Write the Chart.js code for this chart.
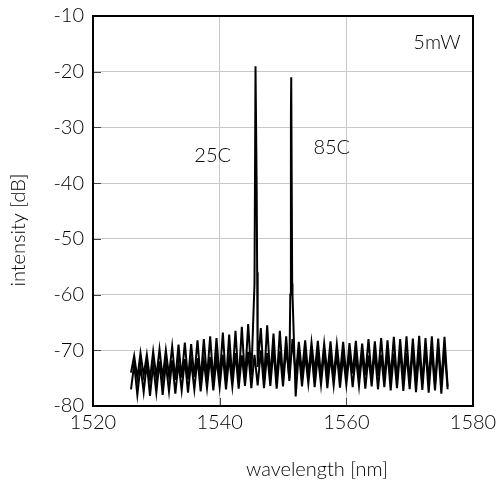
<!DOCTYPE html>
<html>
<head>
<meta charset="utf-8">
<script src="https://cdn.jsdelivr.net/npm/chart.js@4/dist/chart.umd.min.js"></script>
<style>
  html, body { margin: 0; padding: 0; background: #fff; }
  #wrap { width: 502px; height: 483px; }
</style>
</head>
<body>
<div id="wrap"><canvas id="spectrum"></canvas></div>
<script>
// shared wavelength grid of the two spectra [nm]
const wavelengths = [
  1526, 1526.5, 1527, 1527.5, 1528, 1528.5, 1529, 1529.5, 1530, 1530.5,
  1531, 1531.5, 1532, 1532.5, 1533, 1533.5, 1534, 1534.5, 1535, 1535.5,
  1536, 1536.5, 1537, 1537.5, 1538, 1538.5, 1539, 1539.5, 1540, 1540.5,
  1541, 1541.5, 1542, 1542.5, 1543, 1543.5, 1544, 1544.5, 1545, 1545.5,
  1546, 1546.5, 1547, 1547.5, 1548, 1548.5, 1549, 1549.5, 1550, 1550.5,
  1551, 1551.5, 1552, 1552.5, 1553, 1553.5, 1554, 1554.5, 1555, 1555.5,
  1556, 1556.5, 1557, 1557.5, 1558, 1558.5, 1559, 1559.5, 1560, 1560.5,
  1561, 1561.5, 1562, 1562.5, 1563, 1563.5, 1564, 1564.5, 1565, 1565.5,
  1566, 1566.5, 1567, 1567.5, 1568, 1568.5, 1569, 1569.5, 1570, 1570.5,
  1571, 1571.5, 1572, 1572.5, 1573, 1573.5, 1574, 1574.5, 1575, 1575.5,
  1576
];

// 25C spectrum on the grid [dB]
const intensity25 = [
  -74.0, -71.0, -75.0, -70.5, -74.5, -70.8, -75.2, -70.2, -74.8, -69.8,
  -75.0, -70.0, -74.6, -69.3, -75.3, -69.0, -74.9, -68.6, -75.2, -68.9,
  -74.8, -68.2, -75.4, -68.0, -75.0, -67.5, -75.5, -67.8, -75.1, -66.8,
  -75.6, -67.2, -75.2, -66.5, -75.8, -65.8, -75.3, -65.3, -74.5, -58.0,
  -73.0, -66.0, -75.5, -65.5, -75.0, -67.0, -75.8, -66.5, -75.2, -67.5,
  -75.5, -68.0, -74.5, -68.5, -74.0, -68.2, -74.5, -68.6, -74.0, -68.3,
  -74.6, -68.8, -74.2, -68.4, -74.8, -68.9, -74.3, -68.5, -74.7, -68.7,
  -74.2, -68.3, -74.8, -68.8, -74.5, -68.0, -75.0, -68.4, -74.6, -67.8,
  -75.2, -68.2, -75.0, -67.6, -75.5, -68.0, -75.2, -67.5, -75.8, -67.9,
  -75.4, -67.4, -76.0, -67.8, -75.6, -67.5, -76.2, -67.9, -75.8, -67.6,
  -76.5
];

// 85C spectrum on the grid [dB]
const intensity85 = [
  -77.0, -72.5, -78.0, -72.8, -77.5, -72.3, -78.2, -72.6, -77.6, -72.0,
  -78.0, -72.4, -77.4, -71.8, -77.8, -72.2, -77.2, -71.6, -77.6, -72.0,
  -77.0, -71.4, -77.4, -71.8, -76.8, -71.2, -77.2, -71.5, -76.6, -70.8,
  -77.0, -71.2, -76.5, -70.5, -76.9, -70.9, -76.4, -70.3, -76.8, -70.8,
  -76.3, -70.0, -76.8, -70.5, -76.4, -69.8, -76.9, -70.2, -76.5, -69.6,
  -75.0, -60.0, -78.3, -70.2, -76.5, -70.8, -76.0, -70.3, -76.6, -70.9,
  -76.2, -70.4, -76.8, -71.0, -76.3, -70.5, -76.7, -71.0, -76.2, -70.6,
  -76.6, -71.0, -76.4, -70.5, -76.9, -70.9, -76.5, -70.3, -77.0, -70.8,
  -76.6, -70.2, -77.2, -70.6, -76.8, -70.0, -77.3, -70.5, -77.0, -69.8,
  -77.5, -70.3, -77.1, -69.6, -77.6, -70.1, -77.2, -69.5, -77.8, -69.8,
  -77.0
];

// extra points of the laser lines, between grid points
const peak25Wl = [1545.66, 1545.72, 1545.85, 1545.92];
const peak25Int = [-19, -19, -42, -56];
const peak85Wl = [1551.15, 1551.25, 1551.3, 1551.38, 1551.45];
const peak85Int = [-60, -28, -21, -21, -58];

const xTicks = [1520, 1540, 1560, 1580];
const yTicks = [-80, -70, -60, -50, -40, -30, -20, -10];

const labels = [
  { text: '25C', x: 1538.9, y: -35.0 },
  { text: '85C', x: 1557.7, y: -33.7 },
  { text: '5mW', x: 1574.3, y: -14.7 }
];

const FONT = 'Lato, "Open Sans", sans-serif';

function buildPoints(wl, vals, extraWl, extraVals) {
  const pts = wl.map((x, i) => ({ x, y: vals[i] }));
  extraWl.forEach((x, i) => pts.push({ x, y: extraVals[i] }));
  pts.sort((a, b) => a.x - b.x);
  return pts;
}

const framePlugin = {
  id: 'frame',
  afterDraw(chart) {
    const { ctx, chartArea: a, scales } = chart;
    ctx.save();
    // inward tick marks
    ctx.strokeStyle = '#444';
    ctx.lineWidth = 1;
    ctx.beginPath();
    yTicks.forEach(v => {
      const y = Math.round(scales.y.getPixelForValue(v)) + 0.5;
      ctx.moveTo(a.left, y);
      ctx.lineTo(a.left + 8, y);
    });
    xTicks.forEach(v => {
      const x = Math.round(scales.x.getPixelForValue(v)) + 0.5;
      ctx.moveTo(x, a.bottom);
      ctx.lineTo(x, a.bottom - 8);
    });
    ctx.stroke();
    // box
    ctx.strokeStyle = '#000';
    ctx.lineWidth = 2;
    ctx.strokeRect(a.left, a.top, a.right - a.left, a.bottom - a.top);
    // annotations
    ctx.fillStyle = '#000';
    ctx.font = '300 20px ' + FONT;
    ctx.textAlign = 'center';
    ctx.textBaseline = 'middle';
    labels.forEach(l => {
      ctx.fillText(l.text, scales.x.getPixelForValue(l.x), scales.y.getPixelForValue(l.y));
    });
    // axis titles
    ctx.fillText('wavelength [nm]', 317, 470);
    ctx.translate(19, 230);
    ctx.rotate(-Math.PI / 2);
    ctx.fillText('intensity [dB]', 0, 0);
    ctx.restore();
  }
};

const lineStyle = {
  borderColor: '#000',
  borderWidth: 2,
  pointRadius: 0,
  fill: false,
  tension: 0
};

const tickFont = { family: FONT, size: 20, weight: 300 };

new Chart(document.getElementById('spectrum'), {
  type: 'line',
  data: {
    datasets: [
      { label: '25C', data: buildPoints(wavelengths, intensity25, peak25Wl, peak25Int), ...lineStyle },
      { label: '85C', data: buildPoints(wavelengths, intensity85, peak85Wl, peak85Int), ...lineStyle }
    ]
  },
  options: {
    responsive: true,
    maintainAspectRatio: false,
    animation: false,
    layout: { padding: { top: 16, right: 29, left: 0, bottom: 0 } },
    plugins: { legend: { display: false }, tooltip: { enabled: false } },
    scales: {
      x: {
        type: 'linear',
        min: 1520,
        max: 1580,
        afterBuildTicks: s => { s.ticks = xTicks.map(v => ({ value: v })); },
        afterFit: s => { s.height = 77; s.paddingLeft = 0; s.paddingRight = 0; },
        grid: { color: '#c8c8c8', lineWidth: 1, drawTicks: false },
        border: { display: false },
        ticks: { color: '#000', padding: 5, maxRotation: 0, font: tickFont, callback: v => String(v) }
      },
      y: {
        min: -80,
        max: -10,
        afterBuildTicks: s => { s.ticks = yTicks.map(v => ({ value: v })); },
        afterFit: s => { s.width = 93; s.paddingTop = 0; s.paddingBottom = 0; },
        grid: { color: '#c8c8c8', lineWidth: 1, drawTicks: false },
        border: { display: false },
        ticks: { color: '#000', padding: 9, font: tickFont, callback: v => String(v) }
      }
    }
  },
  plugins: [framePlugin]
});
</script>
</body>
</html>
